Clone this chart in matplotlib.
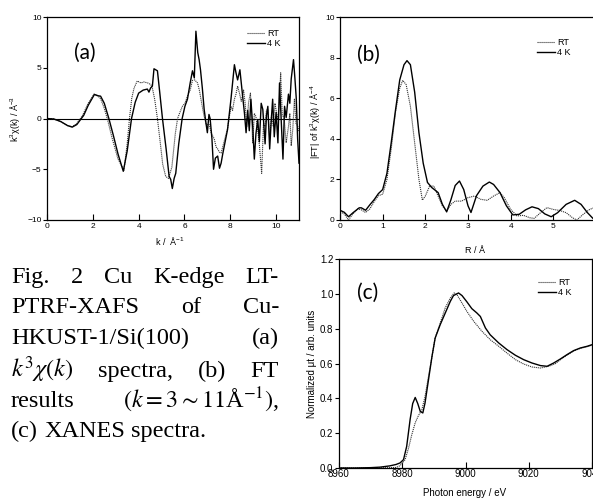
import matplotlib
matplotlib.use('Agg')
import matplotlib.pyplot as plt
from matplotlib.transforms import IdentityTransform

plt.rcParams['font.family'] = ['Liberation Sans', 'DejaVu Sans']
plt.rcParams['mathtext.fontset'] = 'custom'
plt.rcParams['mathtext.rm'] = 'Liberation Sans'
plt.rcParams['mathtext.it'] = 'Liberation Sans:italic'
plt.rcParams['mathtext.bf'] = 'Liberation Sans:bold'

# ---------------- data ----------------
# (a) k^3 chi(k)
k_4k = [0, 0.3, 0.6, 0.9, 1.1, 1.3, 1.6, 1.8, 2.07, 2.2, 2.34, 2.5, 2.7, 2.9, 3.1, 3.33, 3.5, 3.69, 3.85, 4.0,
        4.2, 4.38, 4.45, 4.52, 4.6, 4.67, 4.82, 4.92, 5.04, 5.2, 5.33, 5.4, 5.47, 5.55, 5.62, 5.75, 5.9, 6.02, 6.13, 6.25,
        6.35, 6.43, 6.5, 6.58, 6.64, 6.7, 6.78, 6.86, 6.93, 7.0, 7.07, 7.12, 7.2, 7.27, 7.35, 7.45, 7.53, 7.6, 7.67, 7.74,
        7.88, 8.03, 8.18, 8.25, 8.32, 8.42, 8.54, 8.62, 8.69, 8.76, 8.83, 8.9, 8.98, 9.05, 9.12, 9.2, 9.27, 9.35, 9.42, 9.52,
        9.58, 9.64, 9.72, 9.78, 9.85, 9.92, 10.0, 10.08, 10.15, 10.22, 10.3, 10.37, 10.44, 10.54, 10.6, 10.66, 10.76, 10.82, 10.88, 10.94,
        11.0]
chi_4k = [0, -0.05, -0.3, -0.7, -0.85, -0.6, 0.3, 1.3, 2.37, 2.25, 2.2, 1.5, 0.0, -1.7, -3.5, -5.2, -3.2, 0.0, 1.6, 2.5,
          2.8, 2.9, 2.6, 3.0, 3.2, 4.9, 4.7, 2.6, 0.0, -3.0, -5.7, -6.0, -6.9, -5.9, -5.4, -2.5, 0.0, 1.2, 1.9, 3.5,
          4.7, 4.0, 8.6, 6.5, 5.8, 4.8, 3.0, 0.9, -0.3, -1.4, 0.4, 0.0, -2.0, -5.0, -3.9, -3.7, -4.9, -4.4, -3.5, -2.7,
          -1.1, 1.9, 5.3, 4.5, 3.8, 4.8, 2.2, 0.5, -1.4, 0.8, -1.2, 1.9, -0.8, -4.0, -1.5, -0.1, -2.3, 1.5, 0.9, -2.5,
          0.3, 1.2, -3.0, -0.5, 1.9, -1.8, 0.6, -2.4, 3.5, 0.0, -4.0, 1.2, 0.1, 2.4, 1.5, 3.9, 5.8, 4.0, 2.0, -2.0,
          -4.4]
k_rt = [0, 0.3, 0.6, 0.9, 1.1, 1.3, 1.55, 1.8, 2.05, 2.2, 2.35, 2.5, 2.63, 2.85, 3.1, 3.36, 3.5, 3.6, 3.7, 3.8,
        3.94, 4.1, 4.23, 4.4, 4.53, 4.6, 4.7, 4.82, 4.95, 5.05, 5.18, 5.3, 5.45, 5.6, 5.7, 5.8, 5.91, 6.02, 6.13, 6.25,
        6.35, 6.45, 6.57, 6.65, 6.72, 6.8, 6.86, 6.95, 7.08, 7.18, 7.3, 7.38, 7.45, 7.52, 7.6, 7.67, 7.74, 7.88, 8.03, 8.1,
        8.18, 8.25, 8.32, 8.4, 8.48, 8.58, 8.65, 8.72, 8.8, 8.88, 8.98, 9.05, 9.12, 9.2, 9.27, 9.37, 9.45, 9.52, 9.58, 9.64,
        9.72, 9.8, 9.88, 9.95, 10.07, 10.13, 10.2, 10.27, 10.35, 10.44, 10.54, 10.6, 10.66, 10.73, 10.8, 10.87, 10.94, 11.0]
chi_rt = [0, -0.05, -0.3, -0.7, -0.8, -0.5, 0.3, 1.5, 2.4, 2.3, 1.9, 1.0, 0.0, -2.0, -4.0, -5.1, -2.5, 0.0, 2.0, 3.0,
          3.7, 3.5, 3.6, 3.5, 3.35, 3.0, 1.9, 0.0, -2.5, -4.5, -5.7, -5.9, -4.8, -1.5, 0.0, 0.6, 1.2, 1.5, 2.2, 2.8,
          3.75, 3.8, 3.5, 2.8, 1.9, 0.9, 0.2, -0.6, -0.6, -1.5, -2.0, -2.8, -3.0, -3.3, -3.4, -2.8, -2.2, -1.0, 1.2, 0.8,
          1.9, 2.4, 3.2, 2.5, 1.7, 2.8, 1.5, -0.8, 1.6, 2.5, -2.4, 0.5, 0.2, -1.2, -2.6, -5.4, -0.5, -0.8, 0.8, 0.9,
          -2.0, 0.3, -0.8, 1.5, -0.1, 1.2, 4.5, 0.3, 0.1, -2.4, -0.8, 0.5, -2.7, -1.0, 1.9, -0.5, -0.7, -1.3]

# (b) |FT|
r_4k = [0, 0.1, 0.2, 0.3, 0.45, 0.5, 0.6, 0.7, 0.8, 0.9, 1.0, 1.1, 1.2, 1.3, 1.4, 1.5, 1.57, 1.65, 1.75, 1.85,
        1.95, 2.05, 2.15, 2.3, 2.4, 2.5, 2.6, 2.7, 2.8, 2.9, 3.0, 3.07, 3.2, 3.35, 3.5, 3.6, 3.75, 3.9, 4.05, 4.2,
        4.35, 4.5, 4.65, 4.8, 4.95, 5.1, 5.3, 5.5, 5.65, 5.8, 5.95]
ft_4k = [0.48, 0.38, 0.16, 0.35, 0.6, 0.6, 0.48, 0.75, 1.0, 1.3, 1.5, 2.3, 3.8, 5.4, 6.9, 7.65, 7.85, 7.65, 6.3, 4.3,
         2.8, 1.85, 1.6, 1.35, 0.77, 0.4, 1.0, 1.7, 1.92, 1.5, 0.7, 0.37, 1.2, 1.67, 1.87, 1.75, 1.35, 0.7, 0.25, 0.28,
         0.5, 0.65, 0.56, 0.3, 0.16, 0.36, 0.77, 0.97, 0.77, 0.36, 0.03]
r_rt = [0, 0.1, 0.2, 0.3, 0.42, 0.5, 0.6, 0.7, 0.8, 0.9, 1.0, 1.1, 1.2, 1.3, 1.4, 1.47, 1.55, 1.65, 1.75, 1.85,
        1.93, 2.0, 2.1, 2.2, 2.3, 2.4, 2.5, 2.6, 2.7, 2.85, 3.0, 3.15, 3.3, 3.45, 3.6, 3.75, 3.85, 4.0, 4.15, 4.3,
        4.45, 4.55, 4.7, 4.85, 5.0, 5.15, 5.3, 5.45, 5.55, 5.7, 5.85, 5.95]
ft_rt = [0.4, 0.3, 0.0, 0.3, 0.55, 0.5, 0.37, 0.55, 0.9, 1.2, 1.27, 2.0, 3.5, 5.3, 6.5, 6.88, 6.67, 5.6, 3.8, 2.0,
         0.98, 1.18, 1.67, 1.67, 1.18, 0.69, 0.44, 0.77, 0.93, 0.93, 1.1, 1.18, 1.02, 0.97, 1.18, 1.35, 1.1, 0.52, 0.2, 0.23,
         0.11, 0.08, 0.36, 0.61, 0.52, 0.47, 0.36, 0.11, 0.0, 0.28, 0.52, 0.6]

# (c) XANES
e_4k = [8960, 8965, 8970, 8973, 8976, 8978, 8979.3, 8980.4, 8981.4, 8982.5, 8983.3, 8984.1, 8984.9, 8985.7, 8986.5,
        8987.2, 8988.3, 8989.4, 8990.4, 8992, 8993.6, 8995.2, 8996.2, 8997.8, 8998.9, 9000.4, 9002, 9003.6, 9004.7,
        9006.3, 9007.8, 9010.5, 9013.1, 9015.8, 9018.4, 9021, 9023.7, 9025.8, 9027.9, 9030, 9032.1, 9034.2, 9036.3,
        9038.5, 9040]
mu_4k = [0, 0, 0.002, 0.005, 0.012, 0.02, 0.029, 0.048, 0.124, 0.28, 0.37, 0.405, 0.37, 0.325, 0.316,
         0.373, 0.507, 0.64, 0.746, 0.823, 0.89, 0.957, 0.99, 1.005, 0.99, 0.955, 0.915, 0.89, 0.87,
         0.804, 0.765, 0.718, 0.68, 0.647, 0.622, 0.603, 0.588, 0.584, 0.603, 0.626, 0.651, 0.674, 0.689,
         0.699, 0.708]
e_rt = [8960, 8970, 8978, 8979.3, 8980.9, 8982, 8983, 8984.1, 8985.1, 8986.2, 8987.2, 8988.3, 8989.4, 8990.4,
        8992, 8993.6, 8995.2, 8996.4, 8997.3, 8998.9, 9000.4, 9002.6, 9005.2, 9007.8, 9010.5, 9013.1, 9015.8,
        9018.4, 9021, 9023.7, 9026.3, 9028.5, 9030, 9032.1, 9034.2, 9036.3, 9038.5, 9040]
mu_rt = [0, 0, 0.003, 0.013, 0.048, 0.115, 0.19, 0.26, 0.3, 0.335, 0.41, 0.526, 0.64, 0.746,
         0.832, 0.92, 0.976, 1.005, 0.995, 0.947, 0.9, 0.842, 0.785, 0.737, 0.699, 0.66, 0.622,
         0.597, 0.58, 0.574, 0.584, 0.6, 0.622, 0.648, 0.672, 0.687, 0.697, 0.705]

series_labels = ['RT', '4 K']
caption_lines = [
    ['Fig.', '2', 'Cu', 'K-edge', 'LT-'],
    ['PTRF-XAFS', 'of', 'Cu-'],
    ['HKUST-1/Si(100)', '(a)'],
    [r'$k^3\chi(k)$', 'spectra,', '(b)', 'FT'],
    ['results', r'$(k = 3{\sim}11$Å$^{-1})$,'],
    ['(c)', 'XANES', 'spectra.'],
]

# ---------------- figure ----------------
W, H = 593, 501
fig = plt.figure(figsize=(W / 100, H / 100), dpi=100)


def px_axes(l, t, r, b):
    return fig.add_axes([l / W, 1 - b / H, (r - l) / W, (b - t) / H])


def style(ax, fs):
    for s in ax.spines.values():
        s.set_linewidth(0.9)
        s.set_color('black')
    ax.tick_params(axis='x', direction='in', length=4, width=0.8, labelsize=fs, pad=2)
    ax.tick_params(axis='y', direction='out', length=3, width=0.8, labelsize=fs, pad=1)


def legend(ax, x, y):
    ax.legend(loc='upper left', bbox_to_anchor=(x, y), frameon=False, fontsize=6.5,
              handlelength=2.0, handletextpad=0.25, labelspacing=0.15, borderpad=0, borderaxespad=0)


rt_kw = dict(color='#333333', lw=0.8, ls=(0, (1, 0.8)))
k4_kw = dict(color='black', lw=1.0, ls='-')
lab_kw = dict(fontsize=15, family='Lato', ha='center', va='center')

# (a)
axa = px_axes(47, 17, 299, 220)
axa.axhline(0, color='black', lw=0.8)
axa.plot(k_rt, chi_rt, label=series_labels[0], **rt_kw)
axa.plot(k_4k, chi_4k, label=series_labels[1], **k4_kw)
axa.set_xlim(0, 11)
axa.set_ylim(-10, 10)
axa.set_xticks([0, 2, 4, 6, 8, 10])
axa.set_yticks([-10, -5, 0, 5, 10])
style(axa, 6)
axa.set_xlabel(r'k /  $\mathrm{Å^{-1}}$', fontsize=6.5)
axa.set_ylabel(r'k$^{3}$χ(k) / $\mathrm{Å^{-3}}$', fontsize=6.5)
axa.xaxis.set_label_coords(0.488, -0.074)
axa.yaxis.set_label_coords(-0.099, 0.5)
legend(axa, 0.794, 0.941)
axa.text(0.152, 0.825, '(a)', transform=axa.transAxes, **lab_kw)

# (b)
axb = px_axes(340, 17, 596, 220)
axb.plot(r_rt, ft_rt, label=series_labels[0], **rt_kw)
axb.plot(r_4k, ft_4k, label=series_labels[1], **k4_kw)
axb.set_xlim(0, 6)
axb.set_ylim(0, 10)
axb.set_xticks([0, 1, 2, 3, 4, 5])
axb.set_yticks([0, 2, 4, 6, 8, 10])
style(axb, 6)
axb.set_xlabel(r'R / $\mathrm{Å}$', fontsize=6.5)
axb.set_ylabel(r'|FT| of k$^{3}$χ(k) / $\mathrm{Å^{-4}}$', fontsize=6.5)
axb.xaxis.set_label_coords(0.527, -0.115)
axb.yaxis.set_label_coords(-0.07, 0.483)
legend(axb, 0.77, 0.897)
axb.text(0.11, 0.815, '(b)', transform=axb.transAxes, **lab_kw)

# (c)
axc = px_axes(339, 259, 592, 468)
axc.plot(e_rt, mu_rt, label=series_labels[0], **rt_kw)
axc.plot(e_4k, mu_4k, label=series_labels[1], **k4_kw)
axc.set_xlim(8960, 9040)
axc.set_ylim(0, 1.2)
axc.set_xticks([8960, 8980, 9000, 9020, 9040])
axc.set_yticks([0, 0.2, 0.4, 0.6, 0.8, 1.0, 1.2])
axc.set_yticklabels(['0.0', '0.2', '0.4', '0.6', '0.8', '1.0', '1.2'])
style(axc, 7)
axc.tick_params(axis='x', pad=1)
axc.set_xlabel('Photon energy / eV', fontsize=7)
axc.set_ylabel('Normalized μt / arb. units', fontsize=7)
axc.xaxis.set_label_coords(0.498, -0.096)
axc.yaxis.set_label_coords(-0.085, 0.497)
legend(axc, 0.787, 0.909)
axc.text(0.115, 0.84, '(c)', transform=axc.transAxes, **lab_kw)

# ---------------- caption (justified) ----------------
fig.canvas.draw()
renderer = fig.canvas.get_renderer()
left, right = 11, 279
baselines = [283, 313, 344, 377, 407, 437]
cap_fs = 17.5
for i, (words, base) in enumerate(zip(caption_lines, baselines)):
    texts = [fig.text(0, H - base, w, fontsize=cap_fs, family='Liberation Serif',
                      math_fontfamily='stix', va='baseline', ha='left', transform=IdentityTransform())
             for w in words]
    widths = [t.get_window_extent(renderer).width for t in texts]
    if i == len(caption_lines) - 1 or len(words) == 1:
        gap = cap_fs * 100 / 72 * 0.25
    else:
        gap = (right - left - sum(widths)) / (len(words) - 1)
    x = left
    for t, w in zip(texts, widths):
        t.set_x(x)
        x += w + gap

fig.savefig('out.png', dpi=100)
